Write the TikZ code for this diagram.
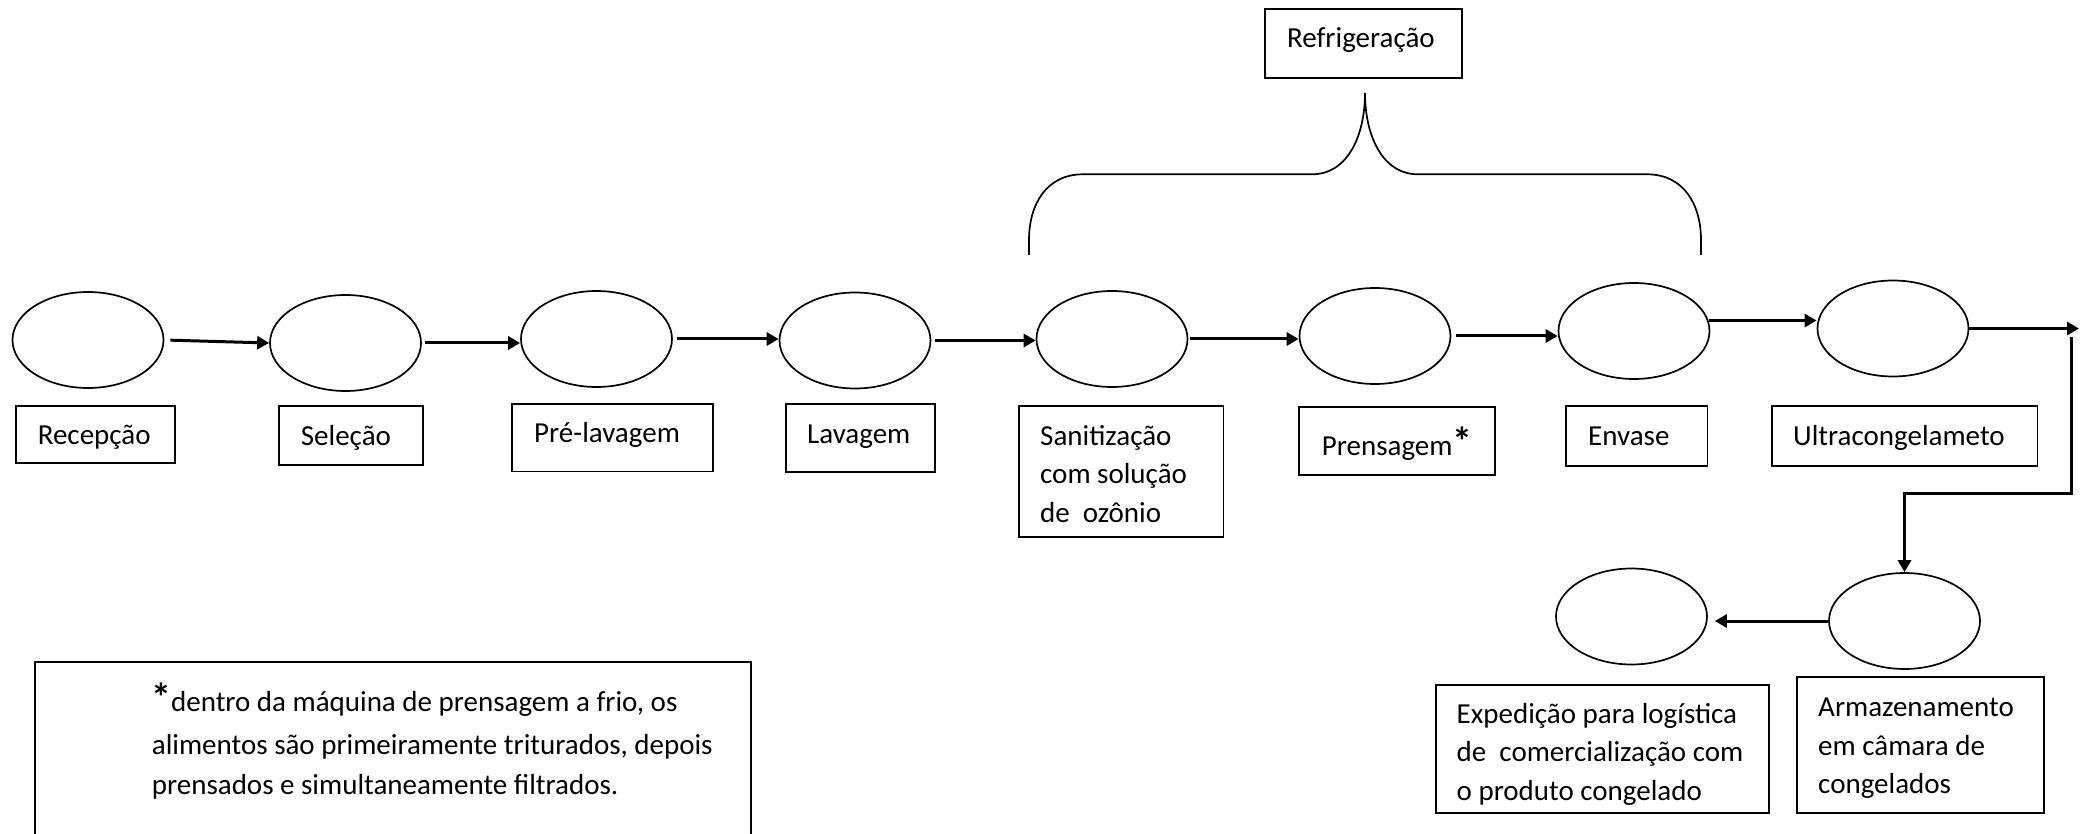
\documentclass[tikz,border=0pt]{standalone}
\usepackage{fontspec}
\setmainfont{Carlito}
\usetikzlibrary{arrows.meta,shapes.geometric}
\begin{document}
\begin{tikzpicture}[x=1pt,y=-1pt,
  stage/.style={draw, ellipse, line width=1.7pt, minimum width=151pt, minimum height=96pt, inner sep=0pt},
  box/.style={draw, line width=1.7pt, inner sep=0pt},
  lbl/.style={anchor=base west, inner sep=0pt, font=\fontsize{29}{38.5}\selectfont},
  arr/.style={line width=3pt, -{Triangle[length=12pt,width=13pt]}},
  brace/.style={line width=1.7pt}]
\useasboundingbox (0,0) rectangle (2081,834);
\clip (0,0) rectangle (2081,834);
% stages
\node[stage] (e1) at (88,340) {};
\node[stage] (e2) at (345.5,343) {};
\node[stage] (e3) at (596.5,339) {};
\node[stage] (e4) at (855,340.5) {};
\node[stage] (e5) at (1112,339) {};
\node[stage] (e6) at (1375,336) {};
\node[stage] (e7) at (1634,331) {};
\node[stage] (e8) at (1893,328.5) {};
\node[stage] (e9) at (1904.5,621) {};
\node[stage] (e10) at (1631.5,616.5) {};
% boxes
\node[box, minimum width=159pt, minimum height=57pt] (b1) at (95.5,434.5) {};
\node[box, minimum width=144pt, minimum height=59pt] (b2) at (351,435.5) {};
\node[box, minimum width=201pt, minimum height=67.5pt] (b3) at (612.5,437.75) {};
\node[box, minimum width=149pt, minimum height=68pt] (b4) at (860.5,438) {};
\node[box, minimum width=204.5pt, minimum height=131pt] (b5) at (1121.25,471.5) {};
\node[box, minimum width=196pt, minimum height=68.5pt] (b6) at (1397,441) {};
\node[box, minimum width=141.5pt, minimum height=60pt] (b7) at (1636.75,436) {};
\node[box, minimum width=265.5pt, minimum height=60pt] (b8) at (1904.75,436) {};
\node[box, minimum width=197pt, minimum height=69pt] (bref) at (1363.5,43.5) {};
\node[box, minimum width=333pt, minimum height=128pt] (b10) at (1602.5,749) {};
\node[box, minimum width=247pt, minimum height=136pt] (b9) at (1920.5,745) {};
\node[box, minimum width=716pt, minimum height=220pt] (note) at (393,772) {};
% texts
\node[lbl] (t1) at (37.6,444) {Recepção};
\node[lbl] (t2) at (300.7,445) {Seleção};
\node[lbl] (t3) at (534,442) {Pré-lavagem};
\node[lbl] (t4) at (807,443) {Lavagem};
\node[lbl] (t5a) at (1040,445) {Sanitização};
\node[lbl] (t5b) at (1040,483.5) {com solução};
\node[lbl] (t5c) at (1040,522) {de\ \ ozônio};
\node[lbl] (t6) at (1321.7,455) {Prensagem{\fontsize{40}{40}\selectfont\bfseries *}};
\node[lbl] (t7) at (1588,445) {Envase};
\node[lbl] (t8) at (1793,445) {Ultracongelameto};
\node[lbl] (tref) at (1287,48) {Refrigeração};
\node[lbl] (t10a) at (1456.5,723) {Expedição para logística};
\node[lbl] (t10b) at (1456.5,761.5) {de\ \ comercialização com};
\node[lbl] (t10c) at (1456.5,800) {o produto congelado};
\node[lbl] (t9a) at (1818,716.5) {Armazenamento};
\node[lbl] (t9b) at (1818,755) {em câmara de};
\node[lbl] (t9c) at (1818,793.5) {congelados};
\node[lbl] (n1) at (151,711) {{\fontsize{40}{40}\selectfont\bfseries *}dentro da máquina de prensagem a frio, os};
\node[lbl] (n2) at (151.7,754) {alimentos são primeiramente triturados, depois};
\node[lbl] (n3) at (151.7,794) {prensados e simultaneamente filtrados.};
% connectors
\draw[arr, shorten <=6pt] (e1.east) -- (e2.west);
\draw[arr, shorten <=3pt] (e2.east) -- (e2.east -| e3.west);
\draw[arr, shorten <=4pt] (e3.east) -- (e3.east -| e4.west);
\draw[arr, shorten <=4pt] (e4.east) -- (e4.east -| e5.west);
\draw[arr, shorten <=2pt] (e5.east) -- (e5.east -| e6.west);
\draw[arr, shorten <=5pt] (e6.east) -- (e6.east -| e7.west);
\draw[arr] (e7.8) -- (e7.8 -| e8.west);
\coordinate (c1) at (2079,328.5);
\coordinate (c2) at (2071,337);
\coordinate (c3) at (2071,493);
\draw[arr] (e8.east) -- (c1);
\draw[arr] (c2) -- (c3) -| (e9.north);
\draw[arr, shorten >=7pt] (e9.west) -- (e9.west -| e10.east);
% brace
\coordinate (tip) at (1365,93);
\draw[brace] (tip) .. controls (1365,135) and (1348,174.3) .. (1312,174.3)
  -- (1083,174.3) .. controls (1046,174.3) and (1029,205) .. (1029,240) -- (1029,255);
\draw[brace] (tip) .. controls (1365,135) and (1382,174.3) .. (1418,174.3)
  -- (1647,174.3) .. controls (1684,174.3) and (1701,205) .. (1701,240) -- (1701,255);
\end{tikzpicture}
\end{document}
